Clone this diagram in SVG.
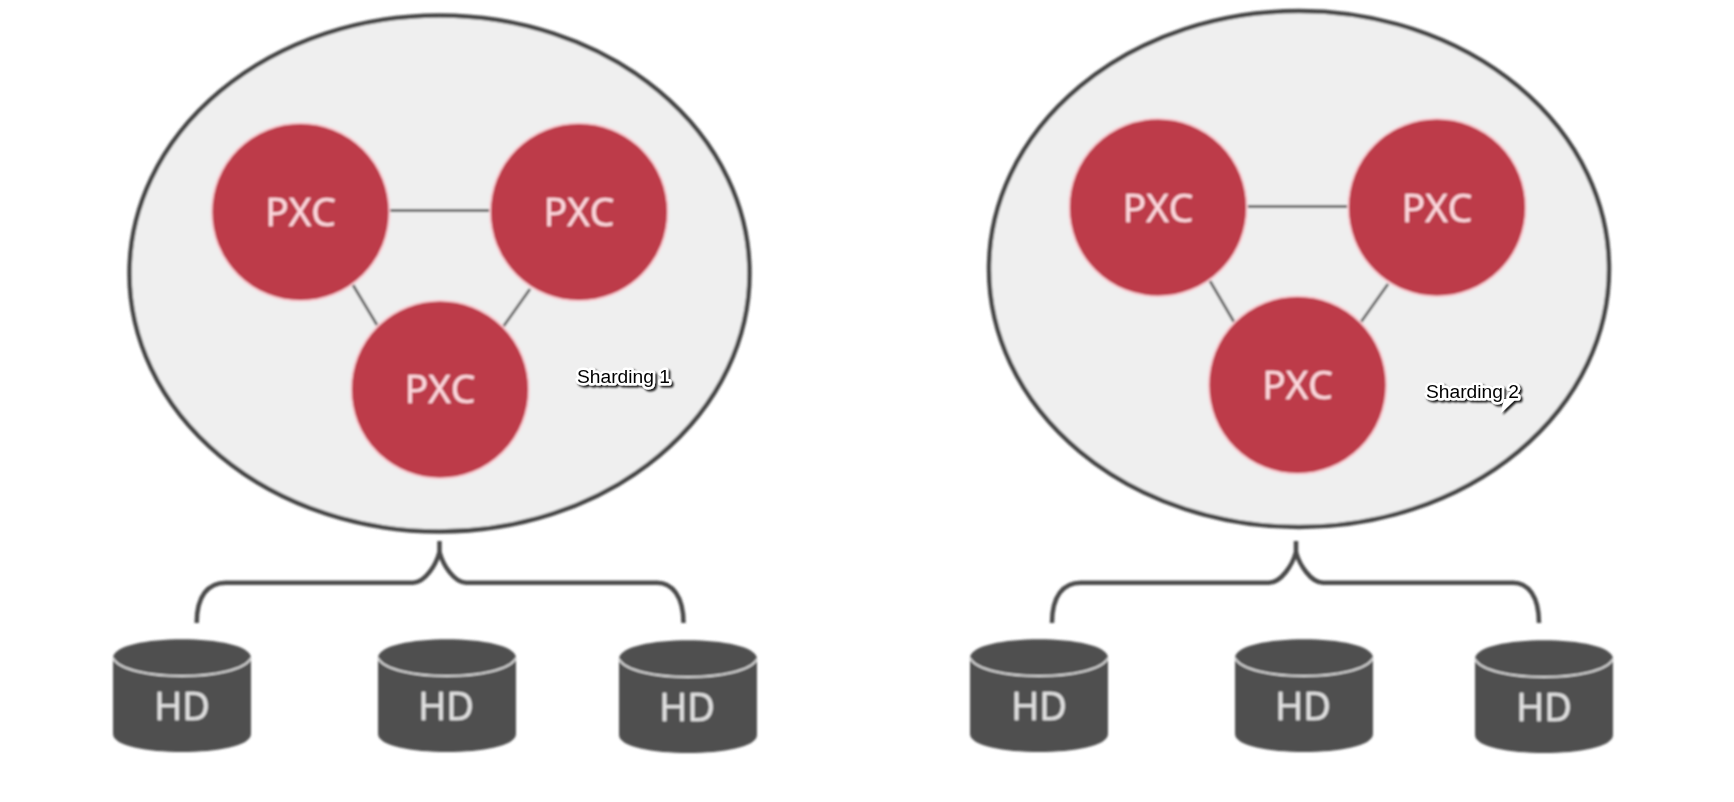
<svg xmlns="http://www.w3.org/2000/svg" width="1734" height="802" viewBox="0 0 1734 802">
<style>
.shard{fill:#efefef;stroke:#454545;stroke-width:4.500}
.pxc{fill:#bd3a4a;stroke:#f9ccd2;stroke-width:2}
.link{stroke:#666;stroke-width:3;fill:none}
.brace{stroke:#4a4a4a;stroke-width:4.500;fill:none}
.cyl{fill:#4f4f4f}
.rim{fill:none;stroke:#d8d8d8;stroke-width:2}
.t{font-family:"Open Sans","Noto Sans",sans-serif;text-anchor:middle;stroke-width:0.5px}
.tp{font-size:39px;fill:#fcd9de;stroke:#fcd9de}
.th{font-size:38px;fill:#e2e2e2;stroke:#e2e2e2}
.lab{font-family:"Liberation Sans",Arial,sans-serif;font-size:19.200px;fill:#000;stroke:#fff;stroke-width:5px;paint-order:stroke;stroke-linejoin:round}
</style>
<defs>
<filter id="b" x="-5%" y="-5%" width="110%" height="110%"><feGaussianBlur stdDeviation="0.8"/></filter>
<filter id="sh" x="-20%" y="-40%" width="140%" height="190%"><feDropShadow dx="2" dy="2" stdDeviation="1" flood-color="#000" flood-opacity="0.9"/></filter>
<g id="cyl">
<path class="cyl" d="M0 19C0 -6 138 -6 138 19V95C138 119 0 119 0 95Z"/>
<path class="rim" d="M0 19C12 43 126 43 138 19"/>
</g>
</defs>
<rect width="1734" height="802" fill="#fff"/>
<g filter="url(#b)">
<g id="shard1"><ellipse class="shard" cx="439.500" cy="273.500" rx="310" ry="258"/></g>
<g id="shard2"><ellipse class="shard" cx="1299" cy="269" rx="310" ry="258"/></g>
<g id="connectors">
<path class="link" d="M380 210.500H500M353 285L377 325M530 289L503 327"/>
<path class="link" d="M1238 206.500H1358M1210 281L1234 322M1388 284L1361 322"/>
<path class="brace" d="M196.700 623C196.700 596 208 582.700 226 582.700H413C425 582.700 436 565 439.500 552V541V552C443 565 454 582.700 466 582.700H657C672 582.700 683.500 596 683.500 623"/>
<path class="brace" d="M1052 623C1052 596 1063 582.700 1081 582.700H1269C1281 582.700 1292.500 565 1296 552V541V552C1299.500 565 1311 582.700 1323 582.700H1513C1528 582.700 1539 596 1539 623"/>
</g>
<g id="pxc1"><circle class="pxc" cx="300.500" cy="212" r="89"/><text class="t tp" x="300.500" y="226">PXC</text></g>
<g id="pxc2"><circle class="pxc" cx="579" cy="212" r="89"/><text class="t tp" x="579" y="226">PXC</text></g>
<g id="pxc3"><circle class="pxc" cx="440" cy="389.500" r="89"/><text class="t tp" x="440" y="403">PXC</text></g>
<g id="pxc4"><circle class="pxc" cx="1158" cy="207.500" r="89"/><text class="t tp" x="1158" y="221.500">PXC</text></g>
<g id="pxc5"><circle class="pxc" cx="1437" cy="207.500" r="89"/><text class="t tp" x="1437" y="221.500">PXC</text></g>
<g id="pxc6"><circle class="pxc" cx="1297.500" cy="385" r="89"/><text class="t tp" x="1297.500" y="399">PXC</text></g>
<g id="hd1"><use href="#cyl" x="113" y="639"/><text class="t th" x="182" y="720">HD</text></g>
<g id="hd2"><use href="#cyl" x="378" y="639"/><text class="t th" x="446" y="720">HD</text></g>
<g id="hd3"><use href="#cyl" x="619" y="640"/><text class="t th" x="687" y="721">HD</text></g>
<g id="hd4"><use href="#cyl" x="970" y="639"/><text class="t th" x="1039" y="720">HD</text></g>
<g id="hd5"><use href="#cyl" x="1235" y="639"/><text class="t th" x="1303" y="720">HD</text></g>
<g id="hd6"><use href="#cyl" x="1475" y="640"/><text class="t th" x="1544" y="721">HD</text></g>
</g>
<g id="label1" filter="url(#sh)"><text class="lab" x="577" y="383">Sharding 1</text></g>
<g id="label2" filter="url(#sh)"><path d="M1501 413L1516 399H1504Z" fill="#fff"/><text class="lab" x="1426" y="398">Sharding 2</text></g>
</svg>
